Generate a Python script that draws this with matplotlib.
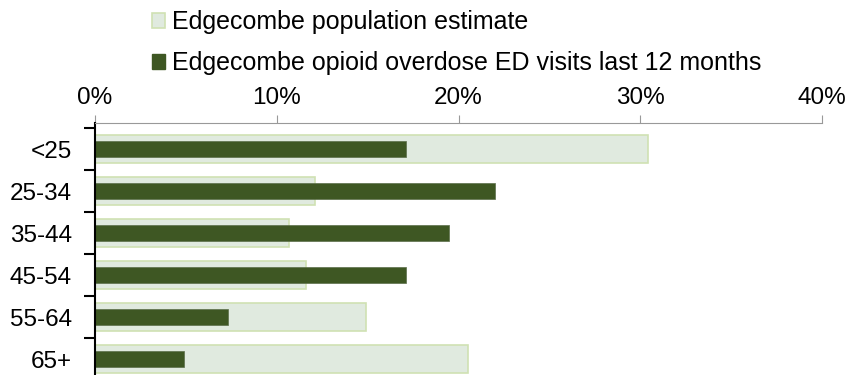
import matplotlib.pyplot as plt
import matplotlib.ticker as plticker
from matplotlib.patches import Patch

plt.rcParams['font.family'] = ['Liberation Sans', 'DejaVu Sans']

age_groups = ['<25', '25-34', '35-44', '45-54', '55-64', '65+']
population_pct = [30.4, 12.1, 10.7, 11.6, 14.9, 20.5]
ed_visits_pct = [17.1, 22.0, 19.5, 17.1, 7.3, 4.9]
series_names = ['Edgecombe population estimate',
                'Edgecombe opioid overdose ED visits last 12 months']

light_fill = '#e0eadf'
light_edge = '#d0e1b3'
dark_fill = '#3e5723'

fig = plt.figure(figsize=(8.48, 3.75), dpi=100)
ax = fig.add_axes([95 / 848, 0, (822 - 95) / 848, 1 - 123 / 375])

pos = list(range(len(age_groups)))
ax.barh(pos, [v / 100 for v in population_pct], height=0.66,
        color=light_fill, edgecolor=light_edge, linewidth=1.2)
ax.barh(pos, [v / 100 for v in ed_visits_pct], height=0.4,
        color=dark_fill, edgecolor='#5b6e4a', linewidth=0.5)

ax.set_xlim(0, 0.4)
ax.set_ylim(5.38, -0.62)

# x axis on top
ax.xaxis.tick_top()
ax.xaxis.set_major_locator(plticker.MultipleLocator(0.1))
ax.xaxis.set_major_formatter(plticker.PercentFormatter(1.0, decimals=0))
ax.tick_params(axis='x', which='major', length=6, color='#999999',
               labelsize=17.5, pad=4)

# y ticks at boundaries, labels at centers
ax.yaxis.set_major_locator(plticker.FixedLocator([i - 0.5 for i in range(7)]))
ax.yaxis.set_major_formatter(plticker.NullFormatter())
ax.yaxis.set_minor_locator(plticker.FixedLocator(pos))
ax.yaxis.set_minor_formatter(plticker.FixedFormatter(age_groups))
ax.tick_params(axis='y', which='major', length=8, width=1.5, color='black')
ax.tick_params(axis='y', which='minor', length=0, labelsize=17.5, pad=16.5)

ax.spines['right'].set_visible(False)
ax.spines['bottom'].set_visible(False)
ax.spines['top'].set_color('#999999')
ax.spines['left'].set_linewidth(1.5)

handles = [Patch(facecolor=light_fill, edgecolor=light_edge, linewidth=1.2),
           Patch(facecolor=dark_fill, edgecolor=dark_fill)]
fig.legend(handles, series_names, loc='upper left',
           bbox_to_anchor=(142 / 848, 0.9987), frameon=False, fontsize=18,
           handlelength=0.52, handleheight=0.52, handletextpad=0.26,
           labelspacing=0.68, borderaxespad=0)

fig.savefig('out.png', dpi=100)
